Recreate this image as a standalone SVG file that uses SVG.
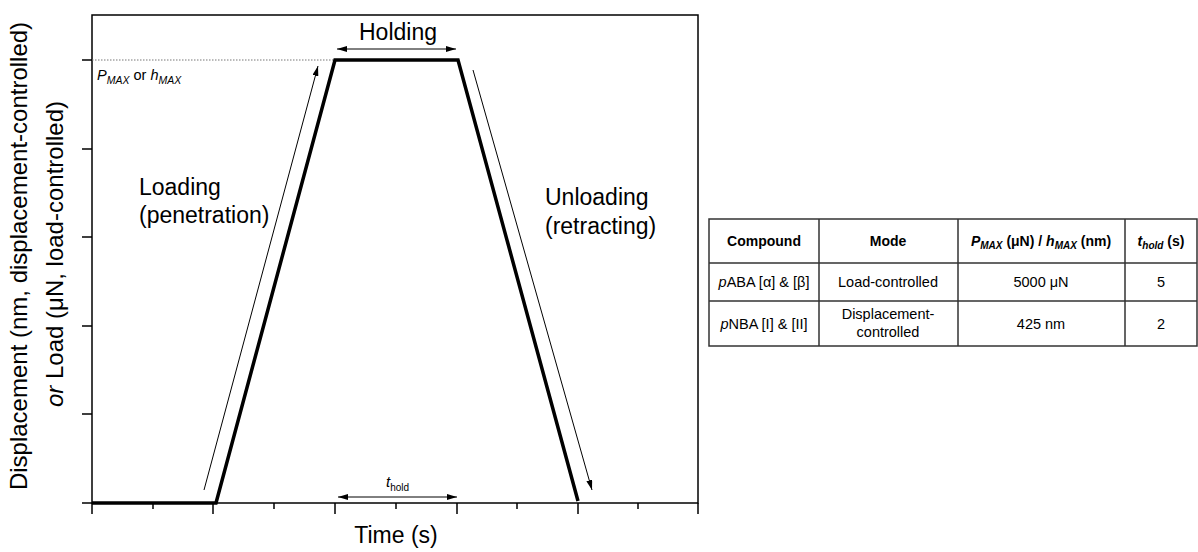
<svg xmlns="http://www.w3.org/2000/svg" width="1198" height="552" viewBox="0 0 1198 552">
<defs>
<marker id="ah" viewBox="0 0 10 6" refX="10" refY="3" markerWidth="10" markerHeight="6" markerUnits="userSpaceOnUse" orient="auto-start-reverse">
<path d="M0,0 L10,3 L0,6 z" fill="#000"/>
</marker>
<style>
text{font-family:"Liberation Sans",Arial,sans-serif;fill:#000}
.lbl{font-size:23px}
.ax{font-size:24px}
.tk{stroke:#000;stroke-width:1.5;fill:none}
.arr{stroke:#000;stroke-width:1;fill:none;marker-end:url(#ah)}
.arr2{stroke:#000;stroke-width:1;fill:none;marker-end:url(#ah);marker-start:url(#ah)}
.tb{stroke:#333;stroke-width:1.5;fill:none}
.th{font-size:14px;font-weight:bold}
.td{font-size:14.5px}
</style>
</defs>
<rect width="1198" height="552" fill="#fff"/>

<g id="plot-frame">
<rect x="92" y="15" width="606" height="488" class="tk"/>
<path class="tk" d="M82,503 H92 M82,414 H92 M82,326 H92 M82,237 H92 M82,149 H92 M82,60 H92"/>
<path class="tk" d="M92,503 V514 M213,503 V514 M335,503 V514 M457,503 V514 M578,503 V514 M698,503 V514"/>
<path class="tk" d="M153,503 V509 M274,503 V509 M396,503 V509 M517,503 V509 M638,503 V509"/>
</g>

<g id="pmax-line">
<line x1="92" y1="60" x2="335" y2="60" stroke="#777" stroke-width="1" stroke-dasharray="1.5 1.5"/>
<text x="97" y="80" font-size="14.5" font-style="italic">P<tspan font-size="10.5" dy="4">MAX</tspan><tspan dy="-4" font-style="normal"> or </tspan>h<tspan font-size="10.5" dy="4">MAX</tspan></text>
</g>

<g id="curve">
<polyline points="92,503 216,503 335,60 458,60 578,501" fill="none" stroke="#000" stroke-width="3.5" stroke-linejoin="miter"/>
</g>

<g id="connectors">
<line class="arr" x1="204" y1="490" x2="318" y2="66"/>
<line class="arr" x1="473" y1="70" x2="592" y2="490"/>
<line class="arr2" x1="337" y1="49" x2="456" y2="49"/>
<line class="arr2" x1="338" y1="497" x2="457" y2="497"/>
</g>

<g id="labels">
<text class="lbl" x="398" y="40" text-anchor="middle">Holding</text>
<text class="lbl" x="139" y="195">Loading</text>
<text class="lbl" x="139" y="223">(penetration)</text>
<text class="lbl" x="545" y="205">Unloading</text>
<text class="lbl" x="545" y="234">(retracting)</text>
<text x="386" y="487" font-size="15" font-style="italic">t<tspan font-size="10" font-style="normal" dy="4">hold</tspan></text>
<text class="lbl" x="396" y="543" text-anchor="middle">Time (s)</text>
<text class="ax" transform="translate(27,256) rotate(-90)" text-anchor="middle">Displacement (nm, displacement-controlled)</text>
<text class="ax" transform="translate(63,254) rotate(-90)" text-anchor="middle"><tspan font-style="italic">or</tspan> Load (μN, load-controlled)</text>
</g>

<g id="table">
<rect class="tb" x="709" y="219" width="488" height="127"/>
<path class="tb" d="M709,263 H1197 M709,301 H1197 M819,219 V346 M958,219 V346 M1125,219 V346"/>
<text class="th" x="764" y="246" text-anchor="middle">Compound</text>
<text class="th" x="888" y="246" text-anchor="middle">Mode</text>
<text class="th" x="1041" y="246" text-anchor="middle"><tspan font-style="italic">P<tspan font-size="10" dy="3">MAX</tspan></tspan><tspan dy="-3"> (μN) / </tspan><tspan font-style="italic">h<tspan font-size="10" dy="3">MAX</tspan></tspan><tspan dy="-3"> (nm)</tspan></text>
<text class="th" x="1161" y="246" text-anchor="middle"><tspan font-style="italic">t<tspan font-size="10" dy="3">hold</tspan></tspan><tspan dy="-3"> (s)</tspan></text>
<text class="td" x="764" y="287" text-anchor="middle"><tspan font-style="italic">p</tspan>ABA [α] &amp; [β]</text>
<text class="td" x="888" y="287" text-anchor="middle">Load-controlled</text>
<text class="td" x="1041" y="287" text-anchor="middle">5000 μN</text>
<text class="td" x="1161" y="287" text-anchor="middle">5</text>
<text class="td" x="764" y="329" text-anchor="middle"><tspan font-style="italic">p</tspan>NBA [I] &amp; [II]</text>
<text class="td" x="888" y="319" text-anchor="middle">Displacement-</text>
<text class="td" x="888" y="337" text-anchor="middle">controlled</text>
<text class="td" x="1041" y="329" text-anchor="middle">425 nm</text>
<text class="td" x="1161" y="329" text-anchor="middle">2</text>
</g>
</svg>
